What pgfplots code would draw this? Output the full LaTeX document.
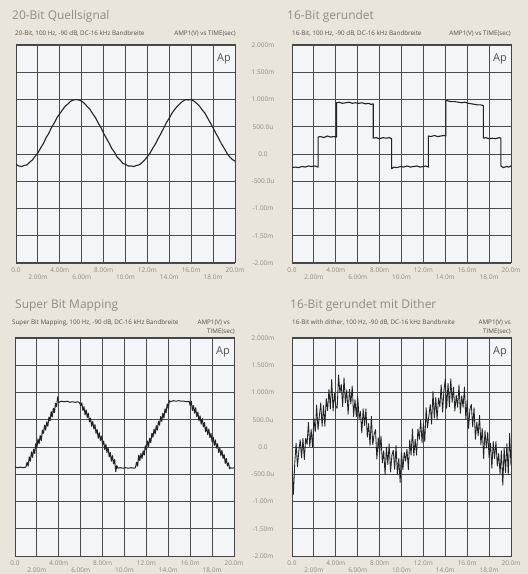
\documentclass[border=0pt]{standalone}
\usepackage{fontspec}
\setmainfont{Open Sans}
\usepackage{pgfplots}
\pgfplotsset{compat=1.18}

\definecolor{pagebg}{RGB}{234,229,218}
\definecolor{plotbg}{RGB}{243,245,248}
\definecolor{gridc}{RGB}{75,75,75}
\definecolor{tickc}{RGB}{140,138,132}
\definecolor{titlec}{RGB}{140,140,136}
\definecolor{subc}{RGB}{80,80,78}
\definecolor{tracec}{RGB}{35,35,35}

\newcommand{\tickfont}{\fontsize{6.5}{7}\selectfont}
\newcommand{\subfont}{\fontsize{6.3}{7}\selectfont}
\newcommand{\titlefont}{\fontsize{12}{14}\selectfont}

\pgfplotsset{
  panel/.style={
    scale only axis, width=219bp, height=218bp, anchor=south west,
    xmin=0, xmax=20, ymin=-2, ymax=2,
    xtick={0,4,8,12,16,20},
    xticklabels={0.0,4.00m,8.00m,12.0m,16.0m,20.0m},
    extra x ticks={2,6,10,14,18},
    extra x tick labels={2.00m,6.00m,10.0m,14.0m,18.0m},
    extra x tick style={grid=major, xticklabel style={yshift=-7.5bp}},
    ytick={-2,-1.5,-1,-0.5,0,0.5,1,1.5,2},
    grid=major,
    major grid style={draw=gridc, line width=0.85bp},
    axis line style={draw=gridc!90!black, line width=1bp},
    tick style={draw=none},
    axis background/.style={fill=plotbg},
    xticklabel style={font=\tickfont, text=tickc, anchor=center, yshift=-7bp},
    yticklabel style={font=\tickfont, text=tickc, anchor=center, xshift=-29bp},
  },
  withy/.style={yticklabels={-2.00m,-1.50m,-1.00m,-500.0u,0.0,500.0u,1.000m,1.500m,2.000m}},
  noy/.style={yticklabels={}},
  trace/.style={draw=tracec, line width=1.1bp, mark=none, line join=round},
}

\begin{document}
\begin{tikzpicture}
\path[use as bounding box] (0,0) rectangle (528bp,574bp);
\fill[pagebg] (0,0) rectangle (528bp,574bp);

% 20-Bit Quellsignal
\begin{axis}[panel, noy, at={(16bp,311bp)}]
\addplot[trace] coordinates {
(0,-0.19)(0.25,-0.22)(0.5,-0.23)(0.75,-0.21)(1.0,-0.20)(1.25,-0.15)(1.5,-0.11)(1.75,-0.04)
(2.0,0.02)(2.25,0.11)(2.5,0.19)(2.75,0.30)(3.0,0.38)(3.25,0.49)(3.5,0.57)(3.75,0.67)
(4.0,0.74)(4.25,0.81)(4.5,0.88)(4.75,0.92)(5.0,0.97)(5.25,0.99)(5.5,1.00)(5.75,0.99)
(6.0,0.97)(6.25,0.93)(6.5,0.87)(6.75,0.82)(7.0,0.74)(7.25,0.67)(7.5,0.57)(7.75,0.49)
(8.0,0.38)(8.25,0.29)(8.5,0.20)(8.75,0.10)(9.0,0.03)(9.25,-0.06)(9.5,-0.11)(9.75,-0.17)
(10.0,-0.19)(10.25,-0.22)(10.5,-0.22)(10.75,-0.23)(11.0,-0.21)(11.25,-0.20)(11.5,-0.16)(11.75,-0.11)
(12.0,-0.05)(12.25,0.02)(12.5,0.11)(12.75,0.19)(13.0,0.29)(13.25,0.38)(13.5,0.48)(13.75,0.58)
(14.0,0.66)(14.25,0.75)(14.5,0.82)(14.75,0.88)(15.0,0.93)(15.25,0.97)(15.5,1.00)(15.75,0.99)
(16.0,1.00)(16.25,0.97)(16.5,0.93)(16.75,0.88)(17.0,0.81)(17.25,0.75)(17.5,0.66)(17.75,0.57)
(18.0,0.48)(18.25,0.38)(18.5,0.29)(18.75,0.19)(19.0,0.11)(19.25,0.02)(19.5,-0.05)(19.75,-0.10)
(20.0,-0.13)
};
\node[font=\fontsize{11}{12}\selectfont, text=subc] at (axis cs:19,1.75) {Ap};
\end{axis}

% 16-Bit gerundet
\begin{axis}[panel, withy, at={(292bp,311bp)}]
\addplot[trace] coordinates {
(0,-0.25)(0.3,-0.24)(0.6,-0.25)(0.9,-0.23)(1.2,-0.24)(1.5,-0.22)(1.8,-0.23)(2.1,-0.22)(2.38,-0.24)
(2.38,0.31)(2.6,0.32)(2.9,0.30)(3.2,0.33)(3.5,0.31)(3.8,0.32)(4.06,0.31)
(4.06,0.94)(4.3,0.95)(4.6,0.93)(4.9,0.94)(5.2,0.95)(5.5,0.93)(5.8,0.94)(6.1,0.93)(6.4,0.94)(6.7,0.92)(7.0,0.93)(7.2,0.91)(7.42,0.92)
(7.42,0.29)(7.7,0.30)(8.0,0.28)(8.3,0.30)(8.6,0.29)(8.9,0.30)(9.1,0.28)
(9.1,-0.27)(9.3,-0.24)(9.6,-0.25)(9.9,-0.23)(10.2,-0.24)(10.5,-0.22)(10.8,-0.24)(11.1,-0.23)(11.4,-0.22)(11.7,-0.24)(12.0,-0.23)(12.2,-0.22)(12.46,-0.24)
(12.46,0.33)(12.7,0.32)(13.0,0.34)(13.3,0.32)(13.6,0.33)(13.85,0.34)(14.05,0.33)
(14.05,0.99)(14.3,0.97)(14.6,0.96)(14.9,0.96)(15.2,0.95)(15.5,0.94)(15.8,0.95)(16.1,0.93)(16.4,0.92)(16.7,0.91)(17.0,0.90)(17.25,0.90)(17.47,0.89)
(17.47,0.29)(17.7,0.30)(18.0,0.28)(18.3,0.29)(18.6,0.28)(18.9,0.30)(19.08,0.29)
(19.08,-0.22)(19.3,-0.25)(19.6,-0.23)(19.8,-0.24)(20,-0.22)
};
\node[font=\fontsize{11}{12}\selectfont, text=subc] at (axis cs:19,1.75) {Ap};
\end{axis}

% Super Bit Mapping
\begin{axis}[panel, noy, at={(15bp,18bp)}]
\addplot[trace, line width=1bp] coordinates {
(0,-0.37)(0.25,-0.38)(0.5,-0.37)(0.75,-0.38)(1.0,-0.37)
(1.1,-0.28)(1.2,-0.35)(1.3,-0.18)(1.4,-0.26)(1.5,-0.09)(1.6,-0.19)(1.7,-0.04)(1.8,-0.12)(1.9,0.06)(2.0,-0.01)
(2.1,0.15)(2.2,0.06)(2.3,0.21)(2.4,0.12)(2.5,0.31)(2.6,0.25)(2.7,0.40)(2.8,0.31)(2.9,0.46)(3.0,0.38)
(3.1,0.55)(3.2,0.48)(3.3,0.65)(3.4,0.55)(3.5,0.71)(3.6,0.63)(3.7,0.80)(3.8,0.74)(3.9,0.92)
(4.0,0.82)(4.25,0.84)(4.5,0.83)(4.75,0.84)(5.0,0.82)(5.25,0.83)(5.5,0.82)(5.75,0.83)(5.9,0.81)
(6.0,0.76)(6.1,0.81)(6.2,0.67)(6.3,0.74)(6.4,0.59)(6.5,0.68)(6.6,0.54)(6.7,0.62)(6.8,0.46)(6.9,0.53)
(7.0,0.38)(7.1,0.47)(7.2,0.33)(7.3,0.41)(7.4,0.25)(7.5,0.32)(7.6,0.16)(7.7,0.26)(7.8,0.12)(7.9,0.20)
(8.0,0.04)(8.1,0.11)(8.2,-0.05)(8.3,0.05)(8.4,-0.10)(8.5,-0.01)(8.6,-0.18)(8.7,-0.10)(8.8,-0.26)(8.9,-0.16)
(9.0,-0.31)(9.1,-0.23)(9.2,-0.45)(9.3,-0.34)
(9.4,-0.39)(9.6,-0.38)(9.85,-0.39)(10.1,-0.38)(10.35,-0.39)(10.6,-0.38)(10.85,-0.39)(11.0,-0.38)
(11.1,-0.28)(11.2,-0.35)(11.3,-0.15)(11.4,-0.25)(11.5,-0.12)(11.6,-0.21)(11.7,-0.07)(11.8,-0.15)(11.9,0.02)(12.0,-0.05)
(12.1,0.11)(12.2,0.01)(12.3,0.16)(12.4,0.08)(12.5,0.25)(12.6,0.18)(12.7,0.33)(12.8,0.24)(12.9,0.39)(13.0,0.31)
(13.1,0.47)(13.2,0.40)(13.3,0.56)(13.4,0.47)(13.5,0.62)(13.6,0.53)(13.7,0.70)(13.8,0.63)(13.9,0.79)(14.0,0.71)(14.1,0.85)
(14.2,0.83)(14.45,0.85)(14.7,0.84)(14.95,0.85)(15.2,0.84)(15.45,0.84)(15.7,0.83)(15.9,0.84)
(16.0,0.76)(16.1,0.84)(16.2,0.67)(16.3,0.76)(16.4,0.62)(16.5,0.72)(16.6,0.56)(16.7,0.64)(16.8,0.48)(16.9,0.57)
(17.0,0.42)(17.1,0.52)(17.2,0.37)(17.3,0.45)(17.4,0.28)(17.5,0.37)(17.6,0.23)(17.7,0.33)(17.8,0.17)(17.9,0.25)
(18.0,0.09)(18.1,0.18)(18.2,0.03)(18.3,0.13)(18.4,-0.02)(18.5,0.06)(18.6,-0.10)(18.7,-0.02)(18.8,-0.16)(18.9,-0.06)
(19.0,-0.21)(19.1,-0.14)(19.2,-0.30)(19.3,-0.21)(19.4,-0.35)(19.5,-0.29)(19.6,-0.40)
(19.7,-0.38)(19.85,-0.39)(20,-0.38)
};
\node[font=\fontsize{11}{12}\selectfont, text=subc] at (axis cs:19,1.75) {Ap};
\end{axis}

% 16-Bit gerundet mit Dither
\begin{axis}[panel, withy, at={(292bp,18bp)}]
\addplot[trace, line width=0.85bp] coordinates {
(0,-0.34)(0.125,-0.87)(0.25,-0.30)(0.375,0.07)(0.5,-0.36)(0.625,-0.07)(0.75,0.13)(0.875,-0.20)
(1.0,0.16)(1.125,-0.23)(1.25,0.16)(1.375,0.05)(1.5,0.45)(1.625,0.01)(1.75,0.32)(1.875,0.00)
(2.0,0.53)(2.125,0.28)(2.25,0.77)(2.375,0.32)(2.5,0.57)(2.625,0.81)(2.75,0.38)(2.875,0.76)
(3.0,0.38)(3.125,0.89)(3.25,0.67)(3.375,1.06)(3.5,0.70)(3.625,1.24)(3.75,0.66)(3.875,0.98)
(4.0,0.75)(4.125,0.71)(4.25,1.32)(4.375,1.00)(4.5,1.15)(4.625,0.74)(4.75,1.27)(4.875,0.81)
(5.0,1.05)(5.125,0.60)(5.25,1.06)(5.375,0.79)(5.5,1.12)(5.625,0.56)(5.75,0.87)(5.875,0.56)
(6.0,0.93)(6.125,0.52)(6.25,0.65)(6.375,0.26)(6.5,0.70)(6.625,0.39)(6.75,0.70)(6.875,0.18)
(7.0,0.43)(7.125,0.03)(7.25,0.56)(7.375,0.04)(7.5,0.23)(7.625,0.32)(7.75,-0.22)(7.875,0.17)
(8.0,-0.12)(8.125,0.20)(8.25,-0.29)(8.375,-0.07)(8.5,-0.51)(8.625,0.00)(8.75,-0.32)(8.875,0.06)
(9.0,-0.46)(9.125,-0.15)(9.25,-0.06)(9.375,-0.41)(9.5,0.03)(9.625,-0.51)(9.75,-0.21)(9.875,-0.65)
(10.0,-0.09)(10.125,-0.42)(10.25,-0.10)(10.375,-0.26)(10.5,-0.04)(10.625,-0.42)(10.75,0.13)(10.875,-0.15)
(11.0,0.33)(11.125,-0.16)(11.25,0.14)(11.375,-0.15)(11.5,0.33)(11.625,0.14)(11.75,0.49)(11.875,0.08)
(12.0,0.43)(12.125,0.10)(12.25,0.72)(12.375,0.35)(12.5,0.57)(12.625,0.78)(12.75,0.42)(12.875,1.02)
(13.0,0.53)(13.125,0.91)(13.25,0.50)(13.375,0.90)(13.5,0.74)(13.625,1.14)(13.75,0.64)(13.875,1.03)
(14.0,1.25)(14.125,0.71)(14.25,1.17)(14.375,0.74)(14.5,1.25)(14.625,0.82)(14.75,1.10)(14.875,0.66)
(15.0,0.95)(15.125,0.73)(15.25,1.14)(15.375,0.62)(15.5,0.94)(15.625,0.73)(15.75,1.10)(15.875,0.51)
(16.0,0.86)(16.125,0.34)(16.25,0.70)(16.375,0.78)(16.5,0.37)(16.625,0.72)(16.75,0.14)(16.875,0.46)
(17.0,0.21)(17.125,0.58)(17.25,0.04)(17.375,0.34)(17.5,-0.21)(17.625,0.30)(17.75,-0.02)(17.875,0.27)
(18.0,-0.20)(18.125,0.07)(18.25,-0.39)(18.375,0.10)(18.5,-0.21)(18.625,0.10)(18.75,-0.35)(18.875,-0.12)
(19.0,-0.49)(19.125,-0.07)(19.25,-0.70)(19.375,-0.01)(19.5,-0.47)(19.625,0.06)(19.75,-0.51)(19.875,0.25)
(20.0,-0.34)
};
\node[font=\fontsize{11}{12}\selectfont, text=subc] at (axis cs:19,1.75) {Ap};
\end{axis}

% titles and captions
\begin{scope}[every node/.style={inner sep=0pt}]
\node[anchor=base west, font=\titlefont, text=titlec] at (12bp,554.5bp) {20-Bit Quellsignal};
\node[anchor=base west, font=\titlefont, text=titlec] at (287bp,554.5bp) {16-Bit gerundet};
\node[anchor=base west, font=\titlefont, text=titlec] at (15bp,265bp) {Super Bit Mapping};
\node[anchor=base west, font=\titlefont, text=titlec] at (290bp,265bp) {16-Bit gerundet mit Dither};

\node[anchor=base west, font=\subfont, text=subc] at (15bp,538bp) {20-Bit, 100 Hz, -90 dB, DC-16 kHz Bandbreite};
\node[anchor=base east, font=\subfont, text=subc] at (236bp,538bp) {AMP1(V) vs TIME(sec)};
\node[anchor=base west, font=\subfont, text=subc] at (292bp,538bp) {16-Bit, 100 Hz, -90 dB, DC-16 kHz Bandbreite};
\node[anchor=base east, font=\subfont, text=subc] at (511bp,538bp) {AMP1(V) vs TIME(sec)};

\node[anchor=base west, font=\subfont, text=subc] at (12bp,249bp) {Super Bit Mapping, 100 Hz, -90 dB, DC-16 kHz Bandbreite};
\node[anchor=base east, font=\subfont, text=subc] at (230bp,249bp) {AMP1(V) vs};
\node[anchor=base east, font=\subfont, text=subc] at (235bp,240bp) {TIME(sec)};
\node[anchor=base west, font=\subfont, text=subc] at (292bp,249bp) {16-Bit with dither, 100 Hz, -90 dB, DC-16 kHz Bandbreite};
\node[anchor=base east, font=\subfont, text=subc] at (511bp,249bp) {AMP1(V) vs};
\node[anchor=base east, font=\subfont, text=subc] at (511bp,240bp) {TIME(sec)};
\end{scope}
\end{tikzpicture}
\end{document}
